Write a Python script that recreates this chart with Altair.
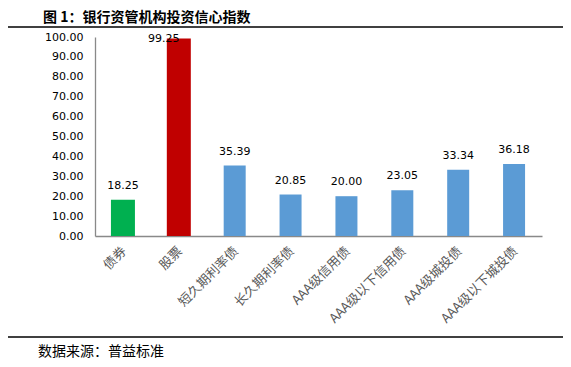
import altair as alt
import pandas as pd

categories = ["债券", "股票", "短久期利率债", "长久期利率债", "AAA级信用债",
              "AAA级以下信用债", "AAA级城投债", "AAA级以下城投债"]
values = [18.25, 99.25, 35.39, 20.85, 20.00, 23.05, 33.34, 36.18]
bar_colors = ["#00B050", "#C00000", "#5B9BD5", "#5B9BD5", "#5B9BD5",
              "#5B9BD5", "#5B9BD5", "#5B9BD5"]
bar_widths = [24, 24, 22, 22, 22, 22, 22, 22]
y_ticks = [0, 10, 20, 30, 40, 50, 60, 70, 80, 90, 100]
title_text = "图 1：银行资管机构投资信心指数"
source_text = "数据来源：普益标准"

df = pd.DataFrame({"cat": categories, "value": values,
                   "barcolor": bar_colors, "bw": bar_widths})

W, H = 447, 199
PAD_L, PAD_T = 87, 29

x_axis = alt.Axis(labels=False, ticks=False, domainColor="#898989", domainWidth=1.3,
                  title=None)
y_axis = alt.Axis(values=y_ticks, format=".2f", grid=False, ticks=False,
                  labelFont="DejaVu Sans", labelFontSize=11, labelColor="#000000",
                  labelPadding=12, domainColor="#898989", domainWidth=1.3,
                  labelOverlap=False, title=None)
x_scale = alt.Scale(paddingInner=0.58, paddingOuter=0.29)
y_scale = alt.Scale(domain=[0, 100], nice=False)

base = alt.Chart(df)
xx = alt.X("cat:N", sort=categories, scale=x_scale, axis=x_axis)

bar_layers = []
for c in dict.fromkeys(bar_colors):
    w = bar_widths[bar_colors.index(c)]
    bar_layers.append(
        base.transform_filter(alt.datum.barcolor == c).mark_bar(size=w, color=c).encode(
            x=xx, y=alt.Y("value:Q", scale=y_scale, axis=y_axis)))

labels = base.transform_filter("datum.value < 90").transform_calculate(
    ly="datum.value + 4.5").mark_text(
    baseline="bottom", font="DejaVu Sans", fontSize=11, color="#000000").encode(
    x=xx, y=alt.Y("ly:Q", scale=y_scale, axis=y_axis),
    text=alt.Text("value:Q", format=".2f"))
labels_top = base.transform_filter("datum.value >= 90").transform_calculate(
    ly="96.4").mark_text(
    baseline="bottom", font="DejaVu Sans", fontSize=11, color="#000000", dx=-15).encode(
    x=xx, y=alt.Y("ly:Q", scale=y_scale, axis=y_axis),
    text=alt.Text("value:Q", format=".2f"))

cat_labels = base.mark_text(angle=315, align="right", baseline="middle",
                            font="Noto Sans CJK SC", fontSize=13, fill="#595959",
                            dx=3, dy=-1).encode(
    x=xx, y=alt.value(H + 16), text="cat:N")

deco = alt.Chart(pd.DataFrame({"t": [title_text]}))
title = deco.mark_text(align="left", baseline="middle", font="Noto Sans CJK SC",
                       fontSize=14, fontWeight="bold", color="#000000").encode(
    x=alt.value(43 - 95), y=alt.value(18 - 37), text="t:N")
src = alt.Chart(pd.DataFrame({"t": [source_text]})).mark_text(
    align="left", baseline="middle", font="Noto Sans CJK SC", fontSize=14,
    color="#000000").encode(x=alt.value(38 - 95), y=alt.value(352 - 37), text="t:N")
top_line = deco.mark_rule(color="#000000", strokeWidth=1.3).encode(
    x=alt.value(4 - 95), x2=alt.value(566 - 95), y=alt.value(27 - 37))
bot_line = deco.mark_rule(color="#000000", strokeWidth=1.3).encode(
    x=alt.value(4 - 95), x2=alt.value(566 - 95), y=alt.value(337 - 37))

chart = alt.layer(*bar_layers, labels, labels_top, cat_labels, title, src,
                  top_line, bot_line).properties(
    width=W, height=H,
    autosize=alt.AutoSizeParams(type="none"),
    padding={"left": PAD_L, "top": PAD_T, "right": 555 - PAD_L - W, "bottom": 359 - PAD_T - H},
    background="#FFFFFF",
).configure_view(stroke=None)

chart.save("out.html", embed_options={"renderer": "svg", "actions": False})
